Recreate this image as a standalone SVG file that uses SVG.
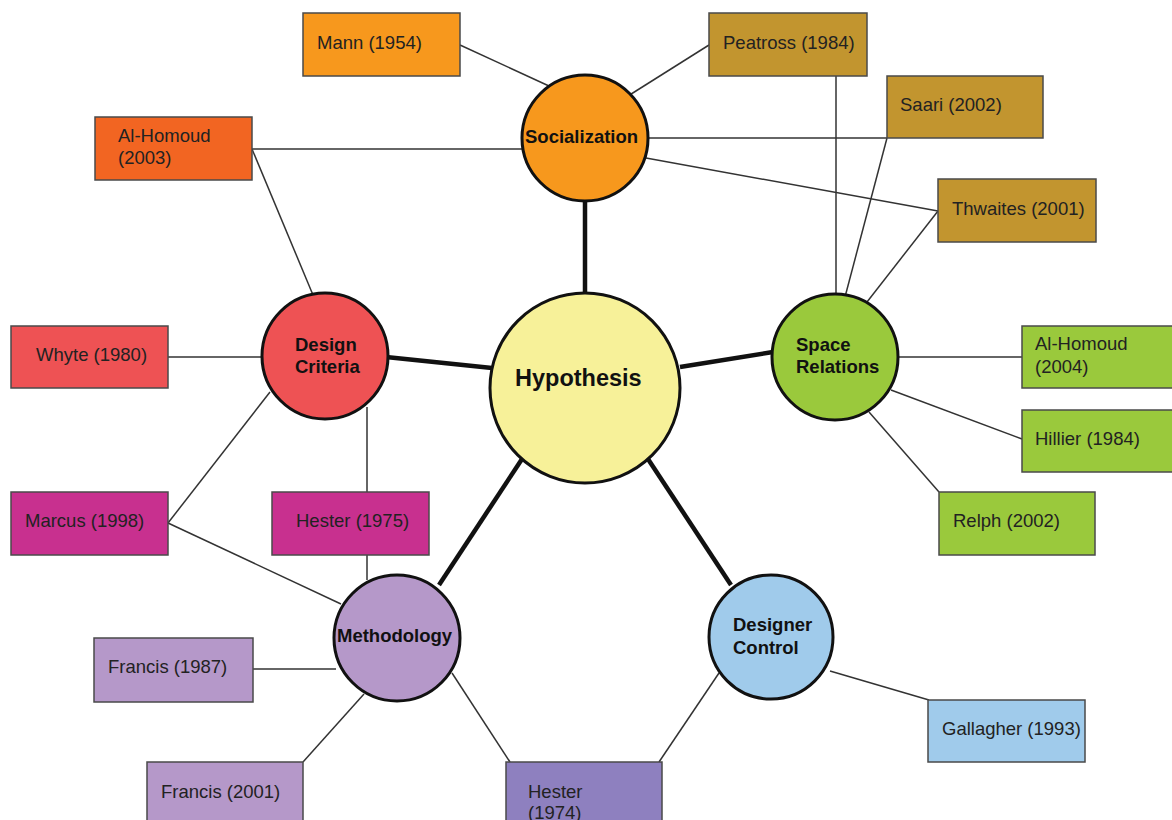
<svg xmlns="http://www.w3.org/2000/svg" width="1172" height="820" viewBox="0 0 1172 820">
<style>
.bg{fill:#ffffff}
.thin{stroke:#333333;stroke-width:1.5;fill:none}
.thick{stroke:#111111;stroke-width:4.5;fill:none}
.box{stroke:#4a4a4a;stroke-width:1.5}
.circ{stroke:#111111;stroke-width:3}
.bt{font-family:"Liberation Sans",Arial,sans-serif;font-size:18.5px;fill:#222222}
.ct{font-family:"Liberation Sans",Arial,sans-serif;font-size:18.5px;font-weight:bold;fill:#111111}
.orange{fill:#F7981D}
.redor{fill:#F26522}
.gold{fill:#C2952F}
.red{fill:#EE5254}
.mag{fill:#C8308F}
.lav{fill:#B598C9}
.purp{fill:#8E80BF}
.blue{fill:#A0CBEB}
.green{fill:#9AC93C}
.yellow{fill:#F7F199}
</style>
<rect class="bg" x="0" y="0" width="1172" height="820"/>
<g id="connectors">
<line class="thin" x1="460" y1="45" x2="549" y2="86"/>
<line class="thin" x1="709" y1="45" x2="628" y2="96"/>
<line class="thin" x1="252" y1="149" x2="523" y2="149"/>
<line class="thin" x1="647" y1="138" x2="887" y2="138"/>
<line class="thin" x1="646" y1="158" x2="938" y2="211"/>
<line class="thin" x1="836" y1="76" x2="836" y2="297"/>
<line class="thin" x1="887" y1="138" x2="845" y2="297"/>
<line class="thin" x1="938" y1="211" x2="867" y2="302"/>
<line class="thin" x1="252" y1="149" x2="313" y2="295"/>
<line class="thin" x1="168" y1="357" x2="263" y2="357"/>
<line class="thin" x1="168" y1="523" x2="270" y2="392"/>
<line class="thin" x1="168" y1="523" x2="341" y2="604"/>
<line class="thin" x1="367" y1="407" x2="367" y2="580"/>
<line class="thin" x1="253" y1="669" x2="336" y2="669"/>
<line class="thin" x1="303" y1="762" x2="364" y2="694"/>
<line class="thin" x1="452" y1="673" x2="510" y2="762"/>
<line class="thin" x1="719" y1="673" x2="659" y2="762"/>
<line class="thin" x1="830" y1="671" x2="929" y2="700"/>
<line class="thin" x1="896" y1="357" x2="1022" y2="357"/>
<line class="thin" x1="891" y1="390" x2="1022" y2="439"/>
<line class="thin" x1="869" y1="412" x2="939" y2="492"/>
<line class="thick" x1="585" y1="200" x2="585" y2="295"/>
<line class="thick" x1="386" y1="357" x2="492" y2="368"/>
<line class="thick" x1="680" y1="367" x2="773" y2="352"/>
<line class="thick" x1="522" y1="459" x2="439" y2="585"/>
<line class="thick" x1="648" y1="459" x2="731" y2="585"/>
</g>
<g id="n-mann"><rect class="box orange" x="303" y="13" width="157" height="63"/><text class="bt" x="317" y="49">Mann (1954)</text></g>
<g id="n-alhomoud2003"><rect class="box redor" x="95" y="117" width="157" height="63"/><text class="bt" x="118" y="142">Al-Homoud</text><text class="bt" x="118" y="164">(2003)</text></g>
<g id="n-peatross"><rect class="box gold" x="709" y="13" width="158" height="63"/><text class="bt" x="723" y="49">Peatross (1984)</text></g>
<g id="n-saari"><rect class="box gold" x="887" y="76" width="156" height="62"/><text class="bt" x="900" y="111">Saari (2002)</text></g>
<g id="n-thwaites"><rect class="box gold" x="938" y="179" width="158" height="63"/><text class="bt" x="952" y="215">Thwaites (2001)</text></g>
<g id="n-whyte"><rect class="box red" x="11" y="326" width="157" height="62"/><text class="bt" x="36" y="361">Whyte (1980)</text></g>
<g id="n-marcus"><rect class="box mag" x="11" y="492" width="157" height="63"/><text class="bt" x="25" y="527">Marcus (1998)</text></g>
<g id="n-hester1975"><rect class="box mag" x="272" y="492" width="157" height="63"/><text class="bt" x="296" y="527">Hester (1975)</text></g>
<g id="n-alhomoud2004"><rect class="box green" x="1022" y="326" width="157" height="62"/><text class="bt" x="1035" y="350">Al-Homoud</text><text class="bt" x="1035" y="373">(2004)</text></g>
<g id="n-hillier"><rect class="box green" x="1022" y="410" width="157" height="62"/><text class="bt" x="1035" y="445">Hillier (1984)</text></g>
<g id="n-relph"><rect class="box green" x="939" y="492" width="156" height="63"/><text class="bt" x="953" y="527">Relph (2002)</text></g>
<g id="n-francis1987"><rect class="box lav" x="94" y="638" width="159" height="64"/><text class="bt" x="108" y="673">Francis (1987)</text></g>
<g id="n-francis2001"><rect class="box lav" x="147" y="762" width="156" height="64"/><text class="bt" x="161" y="798">Francis (2001)</text></g>
<g id="n-hester1974"><rect class="box purp" x="506" y="762" width="156" height="64"/><text class="bt" x="528" y="798">Hester</text><text class="bt" x="528" y="819">(1974)</text></g>
<g id="n-gallagher"><rect class="box blue" x="928" y="700" width="157" height="62"/><text class="bt" x="942" y="735">Gallagher (1993)</text></g>
<g id="n-socialization"><circle class="circ orange" cx="585" cy="138" r="63"/><text class="ct" x="525" y="143">Socialization</text></g>
<g id="n-hypothesis"><circle class="circ yellow" cx="585" cy="388" r="95"/><text class="ct" x="515" y="386" style="font-size:23.5px">Hypothesis</text></g>
<g id="n-designcriteria"><circle class="circ red" cx="325" cy="356" r="63"/><text class="ct" x="295" y="351">Design</text><text class="ct" x="295" y="373">Criteria</text></g>
<g id="n-spacerelations"><circle class="circ green" cx="835" cy="357" r="63"/><text class="ct" x="796" y="351">Space</text><text class="ct" x="796" y="373">Relations</text></g>
<g id="n-methodology"><circle class="circ lav" cx="397" cy="638" r="63"/><text class="ct" x="337" y="642">Methodology</text></g>
<g id="n-designercontrol"><circle class="circ blue" cx="771" cy="637" r="62"/><text class="ct" x="733" y="631">Designer</text><text class="ct" x="733" y="654">Control</text></g>
</svg>
